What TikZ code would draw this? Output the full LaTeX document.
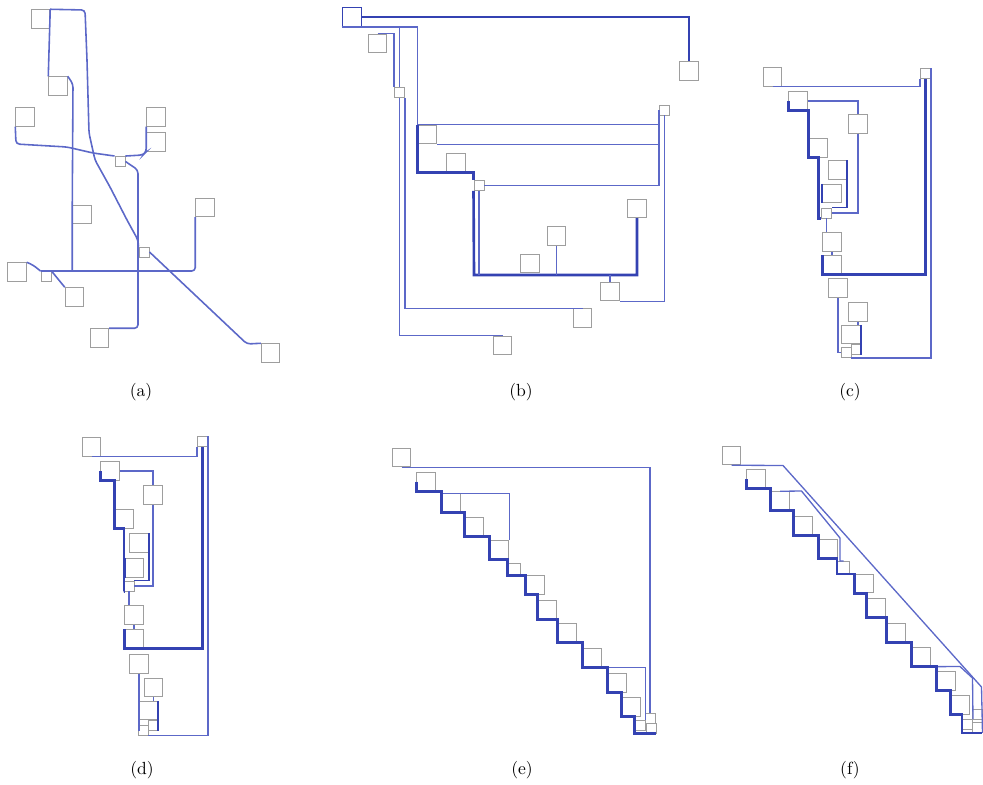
\documentclass[tikz,border=0pt]{standalone}
\usepackage{tikz}
\definecolor{boxc}{RGB}{158,158,158}
\definecolor{edgec}{RGB}{92,104,200}
\definecolor{hedgec}{RGB}{52,66,178}

\begin{document}
\begin{tikzpicture}[x=0.02cm, y=-0.02cm,
  box/.style={draw=boxc, line width=0.55pt, minimum size=0.37cm, inner sep=0pt},
  sbox/.style={box, minimum size=0.2cm},
  edge/.style={draw=edgec, line width=0.75pt},
  hedge/.style={draw=hedgec, line width=1.5pt},
  panelcap/.style={font=\normalsize}]

% canvas in pixels of the reference: x in [0,983], y in [0,784] (y downwards)
\useasboundingbox (0,0) rectangle (983,784);

%% ── panel (a) ────────────────────────────────────────────────────
\node[box]  (a1)  at (40.5,19)   {};
\node[box]  (a2)  at (58,86)     {};
\node[box]  (a3)  at (25,117)    {};
\node[box]  (a4)  at (156,117)   {};
\node[box]  (a5)  at (156,142)   {};
\node[sbox] (a6)  at (120,161.5) {};
\node[box]  (a7)  at (82,214.5)  {};
\node[box]  (a8)  at (205,207.5) {};
\node[sbox] (a9)  at (144,252)   {};
\node[box]  (a10) at (17,272)    {};
\node[sbox] (a11) at (46,276.5)  {};
\node[box]  (a12) at (74.5,297)  {};
\node[box]  (a13) at (99.5,338)  {};
\node[box]  (a14) at (270.5,353) {};

\begin{scope}[edge, line width=0.9pt, rounded corners=2pt]
  \draw (a1.north east) -- (85,10) -- (87,60) -- (89,133) -- (95,160)
        -- (110,187) -- (127,220) -- (138,240) -- (a9.north west);
  \draw (a9.east) -- (247,344) -- (a14.north west);
  \draw (a1.north east) -- (a2.north west);
  \draw (a2.north east) -- (73,84) -- (a7.north west) -- (a7.west |- a11.north);
  \draw (a11.north west) -| (a8.south west);
  \draw (a10.north east) -- (33,265) -- (a11.north west);
  \draw (a11.north east) -- (a12.north west);
  \draw (a3.south west) -- (16,144) -- (67,147) -- (93,153) -- (a6.north west);
  \draw (a6.north east) -- (143,155) -- (a5.south west) -- (a4.south west);
  \draw (a6.east) -- (138,170) |- (a13.north east);
\end{scope}

%% ── panel (b) ────────────────────────────────────────────────────
\node[box, draw=hedgec, minimum size=0.38cm] (b1) at (351.5,17) {};
\node[box]  (b2)  at (689,71)    {};
\node[box]  (b3)  at (377.5,43.5) {};
\node[sbox] (b4)  at (399.5,92.5) {};
\node[sbox] (b5)  at (664.5,110) {};
\node[box]  (b6)  at (427.5,134.5) {};
\node[box]  (b7)  at (456,162.5) {};
\node[sbox] (b8)  at (479,185.5) {};
\node[box]  (b9)  at (637,208.5) {};
\node[box]  (b10) at (556.5,236) {};
\node[box]  (b11) at (530,263.5) {};
\node[box]  (b12) at (610,291.5) {};
\node[box]  (b13) at (582.5,318) {};
\node[box]  (b14) at (502.5,345.5) {};
\coordinate (bbus) at (474,275);

\draw[hedge] (b1.east) -| (b2.north);
\draw[edge] (b1.south west) -| (b6.north west);
\draw[hedge] (b6.north west) -- (b6.west |- b7.south) -| (b8.north west);
\draw[edge] (b3.north) -| (b4.north west);
\draw[edge] (b1.south) -| (b4.north);
\draw[edge] (b4.south) |- (b14.north);
\draw[edge] (b4.south east) |- (b13.north);
\draw[edge] (b6.north west) -| (b5.west);
\draw[edge] (b6.south east) -| (b5.west);
\draw[edge] (b8.east) -| (b5.west);
\draw[edge] (b5.south) |- (b12.south east);
\draw[hedge] (b8.south west) -- (bbus) -| (b9.south);
\draw[edge] (b8.south) -- (b8.south |- bbus);
\draw[edge] (b10.south) -- (b10.south |- bbus);
\draw[edge] (b12.north) -- (b12.north |- bbus);

%% ── panel (c) ────────────────────────────────────────────────────
\node[box]  (c1)  at (772.5,77)  {};
\node[sbox] (c2)  at (925.5,73.5) {};
\node[box]  (c3)  at (798,101)   {};
\node[box]  (c4)  at (858,124)   {};
\node[box]  (c5)  at (818.5,148) {};
\node[box]  (c6)  at (837.5,170) {};
\node[box]  (c7)  at (832,193.5) {};
\node[sbox] (c8)  at (826.5,213) {};
\node[box]  (c9)  at (832,242)   {};
\node[box]  (c10) at (832,265)   {};
\node[box]  (c11) at (838,288)   {};
\node[box]  (c12) at (858,312)   {};
\node[box]  (c13) at (851,334.5) {};
\node[sbox] (c14) at (856.5,349) {};
\node[sbox] (c15) at (846,352.5) {};

\draw[edge] (c1.south) -| (c2.south west);
\draw[hedge] (c10.north west) -- (c10.south west) -| (c2.south);
\draw[edge] (c2.north east) |- (c15.south east);
\draw[edge] (c3.east) -| (c4.north);
\draw[edge] (c4.south) |- (c8.east);
\draw[hedge, line width=1pt] (c6.north east) |- (c8.north east);
\draw[hedge] (c3.west) -- (c3.south west) -| (c5.south west) -- (c5.south) |- (c8.south west);
\draw[hedge, line width=1pt] (c7.north west) -- (c7.south west);
\draw[edge] (c8.south) -- (c8.south |- c9.north);
\draw[edge] (c9.south) -- (c10.north);
\draw[edge] (c11.south) |- (c15.west);
\draw[edge] (c12.south) -- (c12.south |- c13.north);
\draw[hedge, line width=1pt] (c13.north east) |- (c14.south east);

%% ── panel (d) ────────────────────────────────────────────────────
\node[box]  (d1)  at (91.5,447)  {};
\node[sbox] (d2)  at (202.5,441.5) {};
\node[box]  (d3)  at (110,471)   {};
\node[box]  (d4)  at (153,495)   {};
\node[box]  (d5)  at (124,519)   {};
\node[box]  (d6)  at (139,543)   {};
\node[box]  (d7)  at (134.5,568) {};
\node[sbox] (d8)  at (129,586)   {};
\node[box]  (d9)  at (134,615)   {};
\node[box]  (d10) at (134,639)   {};
\node[box]  (d11) at (139,664)   {};
\node[box]  (d12) at (153.5,687.5) {};
\node[box]  (d13) at (148,710.5) {};
\node[sbox] (d14) at (153.5,725) {};
\node[sbox] (d15) at (143,730)   {};

\draw[edge] (d1.south) -| (d2.south west);
\draw[hedge] (d10.north west) -- (d10.south west) -| (d2.south);
\draw[edge] (d2.north east) |- (d15.south east);
\draw[edge] (d3.east) -| (d4.north);
\draw[edge] (d4.south) |- (d8.east);
\draw[hedge, line width=1pt] (d6.north east) |- (d8.north east);
\draw[hedge] (d3.west) -- (d3.south west) -| (d5.south west) -- (d5.south) |- (d8.south west);
\draw[hedge, line width=1pt] (d7.north west) -- (d7.south west);
\draw[edge] (d8.south) -- (d8.south |- d9.north);
\draw[edge] (d9.south) -- (d10.north);
\draw[edge] (d11.south) |- (d15.west);
\draw[edge] (d12.south) -- (d12.south |- d13.north);
\draw[hedge, line width=1pt] (d13.north east) |- (d14.south east);

%% ── panel (e) ────────────────────────────────────────────────────
\node[box]  (e1)  at (401.5,457.5) {};
\node[box]  (e2)  at (426,481.5) {};
\node[box]  (e3)  at (451,503)   {};
\node[box]  (e4)  at (474.5,526.5) {};
\node[box]  (e5)  at (499.5,549.5) {};
\node[sbox, minimum size=0.24cm] (e6) at (514,569) {};
\node[box]  (e7)  at (535,585)   {};
\node[box]  (e8)  at (547,610)   {};
\node[box]  (e9)  at (567,633)   {};
\node[box]  (e10) at (592,658)   {};
\node[box]  (e11) at (617.5,683) {};
\node[box]  (e12) at (631.5,707) {};
\node[sbox] (e13) at (650,718)   {};
\node[sbox] (e14) at (640,725)   {};
\node[sbox] (e15) at (651,728)   {};

\draw[edge] (e1.south) -| (e13.north);
\draw[edge] (e3.north west) -| (e5.north east);
\draw[edge] (e10.south) -| (e14.north east);
% staircase along the lower left corners
\draw[hedge] (e2.west) -- (e2.south west) -| (e3.south west) -| (e4.south west)
  -| (e5.south west) -| (e6.south west) -| (e7.south west)
  -| (e8.south west) -| (e9.south west) -| (e10.south west) -| (e11.south west)
  -| (e12.south west) -| (e14.south west) |- (e15.south east);

%% ── panel (f) ────────────────────────────────────────────────────
\node[box]  (f1)  at (731.5,455.5) {};
\node[box]  (f2)  at (756,479)   {};
\node[box]  (f3)  at (780,501)   {};
\node[box]  (f4)  at (803.5,525.5) {};
\node[box]  (f5)  at (828.5,548.5) {};
\node[sbox, minimum size=0.24cm] (f6) at (843.5,567.5) {};
\node[box]  (f7)  at (864,583.5) {};
\node[box]  (f8)  at (876,608)   {};
\node[box]  (f9)  at (896,633)   {};
\node[box]  (f10) at (921,657)   {};
\node[box]  (f11) at (946,681)   {};
\node[box]  (f12) at (960,705)   {};
\node[sbox] (f13) at (977,714.5) {};
\node[sbox] (f14) at (967.5,724.5) {};
\node[sbox] (f15) at (977,727.5) {};

\draw[edge] (f1.south) -- (783,465.5) -- (981.5,687) -- (f15.south east);
\draw[edge] (f3.north) -- (801.5,491) -- (840,538) |- (f6.north);
\draw[edge] (f10.south) -- (960,666.5) -- (972.5,678) -- (f14.north east);
% staircase along the lower left corners
\draw[hedge] (f2.west) -- (f2.south west) -| (f3.south west) -| (f4.south west)
  -| (f5.south west) -| (f6.south west) -| (f7.south west)
  -| (f8.south west) -| (f9.south west) -| (f10.south west) -| (f11.south west)
  -| (f12.south west) -| (f14.south west) |- (f15.south east);

%% ── captions ─────────────────────────────────────────────────────
\node[panelcap] (capa) at (141,392) {(a)};
\node[panelcap] (capb) at (521,392) {(b)};
\node[panelcap] (capc) at (850,392) {(c)};
\node[panelcap] (capd) at (142,770) {(d)};
\node[panelcap] (cape) at (522,770) {(e)};
\node[panelcap] (capf) at (850,770) {(f)};

\end{tikzpicture}
\end{document}
